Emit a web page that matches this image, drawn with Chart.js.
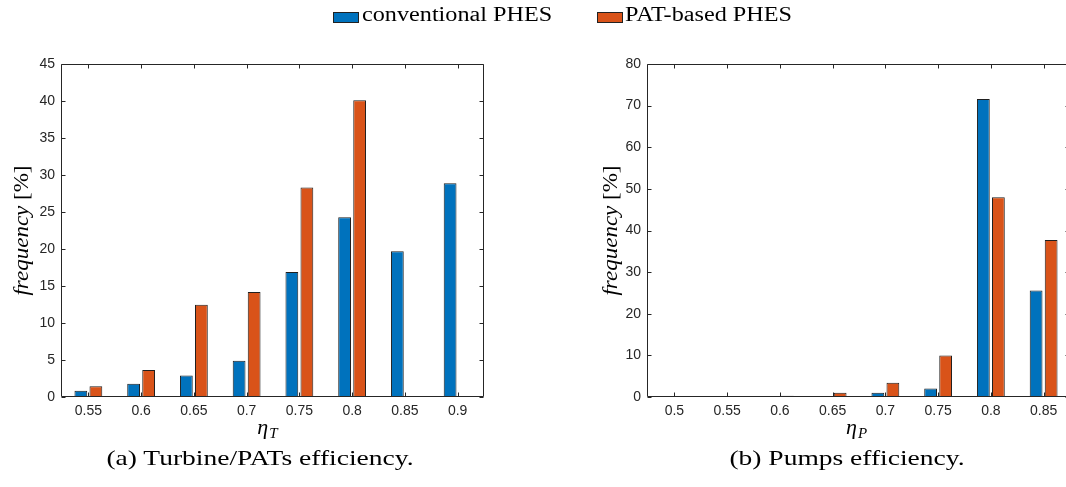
<!DOCTYPE html>
<html><head><meta charset="utf-8">
<script src="https://cdn.jsdelivr.net/npm/chart.js@4.4.1/dist/chart.umd.min.js"></script>
<style>
html,body{margin:0;padding:0;width:1066px;height:487px;overflow:hidden;background:#fff;}
#c1{position:absolute;left:0;top:0;}
#c2{position:absolute;left:533px;top:0;}
.lg{position:absolute;top:4px;font-family:"Liberation Serif",serif;font-size:20px;line-height:20px;color:#000;white-space:nowrap;transform-origin:0 0;transform:scaleX(1.21);}
.sw{position:absolute;top:12px;width:26px;height:11px;border:1px solid #222;box-sizing:border-box;}
.cap{position:absolute;top:447px;font-family:"Liberation Serif",serif;font-size:22px;line-height:22px;color:#000;white-space:nowrap;transform-origin:50% 50%;transform:translateX(-50%) scaleX(1.25);}
</style></head>
<body>
<canvas id="c1" width="533" height="487"></canvas>
<canvas id="c2" width="560" height="487"></canvas>
<div class="sw" id="sw1" style="left:333px;"></div><div class="lg" id="lg1" style="left:362px;"></div>
<div class="sw" id="sw2" style="left:597px;"></div><div class="lg" id="lg2" style="left:625px;"></div>
<div class="cap" id="capA" style="left:260px;"></div>
<div class="cap" id="capB" style="left:847px;"></div>
<script>
// ---- data ----
const seriesNames = ['conventional PHES', 'PAT-based PHES'];
const seriesColors = ['#0072BD', '#D95319'];
const categoriesT = ['0.55', '0.6', '0.65', '0.7', '0.75', '0.8', '0.85', '0.9'];
const conventionalT = [0.85, 1.8, 2.9, 4.9, 16.9, 24.3, 19.7, 28.9];
const patT = [1.45, 3.65, 12.45, 14.2, 28.3, 40.1, 0, 0];
const categoriesP = ['0.5', '0.55', '0.6', '0.65', '0.7', '0.75', '0.8', '0.85'];
const conventionalP = [0, 0, 0, 0, 1.0, 2.05, 71.6, 25.6];
const patP = [0, 0, 0.3, 1.0, 3.4, 10.0, 48.0, 37.7];
const captions = ['(a) Turbine/PATs efficiency.', '(b) Pumps efficiency.'];
const yTitleMain = 'frequency', yTitleUnit = ' [%]';

document.getElementById('lg1').textContent = seriesNames[0];
document.getElementById('lg2').textContent = seriesNames[1];
document.getElementById('sw1').style.background = seriesColors[0];
document.getElementById('sw2').style.background = seriesColors[1];
document.getElementById('capA').textContent = captions[0];
document.getElementById('capB').textContent = captions[1];

const frame = {
  id: 'frame',
  afterDatasetsDraw(chart, args, o) {
    const {ctx, chartArea: a, scales: {x, y}} = chart;
    ctx.save();
    ctx.strokeStyle = '#262626';
    ctx.lineWidth = 1;
    const L = Math.round(a.left) - 0.5, R = Math.round(a.right) - 0.5;
    const T = Math.round(a.top) + 0.5, B = Math.round(a.bottom) - 0.5;
    const tl = 4;
    ctx.beginPath();
    ctx.rect(L, T, R - L, B - T);
    x.ticks.forEach((t, i) => {
      const px = Math.round(x.getPixelForTick(i)) + 0.5;
      ctx.moveTo(px, B); ctx.lineTo(px, B - tl);
      ctx.moveTo(px, T); ctx.lineTo(px, T + tl);
    });
    y.ticks.forEach((t, i) => {
      const py = Math.round(y.getPixelForTick(i)) + 0.5;
      ctx.moveTo(L, py); ctx.lineTo(L + tl, py);
      ctx.moveTo(R, py); ctx.lineTo(R - tl, py);
    });
    ctx.stroke();

    // x title: eta with subscript
    ctx.fillStyle = '#000';
    ctx.textBaseline = 'alphabetic';
    ctx.textAlign = 'left';
    const f1 = 'italic 22px "Liberation Serif"', f2 = 'italic 15px "Liberation Serif"';
    ctx.font = f1; const w1 = ctx.measureText('η').width;
    ctx.font = f2; const w2 = ctx.measureText(o.sub).width;
    const cx = (a.left + a.right) / 2 + o.dx;
    const x0 = cx - (w1 + w2) / 2;
    ctx.font = f1; ctx.fillText('η', x0, 434);
    ctx.font = f2; ctx.fillText(o.sub, x0 + w1 + 1, 438);

    // y title
    ctx.translate(o.yBase, (a.top + a.bottom) / 2);
    ctx.rotate(-Math.PI / 2);
    ctx.scale(1.15, 1);
    const g1 = 'italic 20px "Liberation Serif"', g2 = '20px "Liberation Serif"';
    ctx.font = g1; const v1 = ctx.measureText(yTitleMain).width;
    ctx.font = g2; const v2 = ctx.measureText(yTitleUnit).width;
    const s0 = -(v1 + v2) / 2;
    ctx.font = g1; ctx.fillText(yTitleMain, s0, 0);
    ctx.font = g2; ctx.fillText(yTitleUnit, s0 + v1, 0);
    ctx.restore();
  }
};

function makeChart(id, labels, a, b, ymax, step, yW, padR, frameOpts) {
  const ds = (name, data, color) => ({
    label: name, data, backgroundColor: color, borderColor: '#1f1f1f', borderWidth: 1,
    categoryPercentage: 0.57, barPercentage: 0.85
  });
  const tickFont = {family: '"Liberation Sans", Arial, sans-serif', size: 14};
  return new Chart(document.getElementById(id), {
    type: 'bar',
    data: {labels, datasets: [ds(seriesNames[0], a, seriesColors[0]), ds(seriesNames[1], b, seriesColors[1])]},
    options: {
      responsive: false, animation: false, devicePixelRatio: 1,
      layout: {padding: {left: 0, top: 64, right: padR, bottom: 0}},
      plugins: {legend: {display: false}, tooltip: {enabled: false}, frame: frameOpts},
      scales: {
        x: {
          grid: {display: false, drawTicks: false}, border: {display: false},
          ticks: {color: '#262626', font: tickFont, padding: 6, maxRotation: 0, autoSkip: false},
          afterFit: s => { s.height = 90; }
        },
        y: {
          min: 0, max: ymax,
          grid: {display: false, drawTicks: false}, border: {display: false},
          ticks: {stepSize: step, color: '#262626', font: tickFont, padding: 7},
          afterFit: s => { s.width = yW; }
        }
      }
    },
    plugins: [frame]
  });
}

makeChart('c1', categoriesT, conventionalT, patT, 45, 5, 62, 533 - 484, {sub: 'T', yBase: 28, dx: -6});
makeChart('c2', categoriesP, conventionalP, patP, 80, 10, 648 - 533, 560 - (1070 - 533), {sub: 'P', yBase: 617 - 533, dx: -3});
</script>
</body></html>
